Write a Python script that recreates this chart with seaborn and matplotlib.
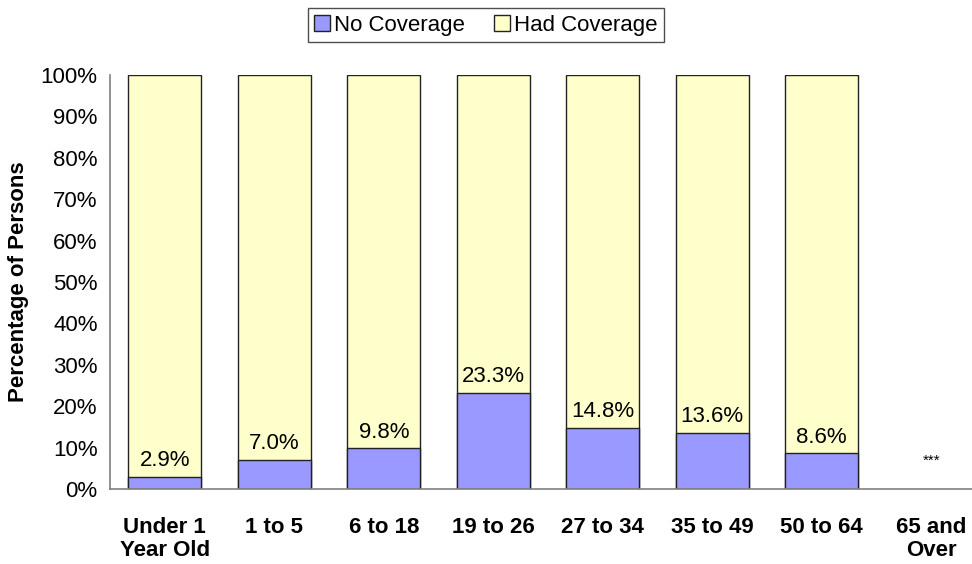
import pandas as pd
import matplotlib.pyplot as plt
import numpy as np
import seaborn as sns
from matplotlib.patches import Patch
from matplotlib.ticker import FixedLocator

categories = ["Under 1\nYear Old", "1 to 5", "6 to 18", "19 to 26",
              "27 to 34", "35 to 49", "50 to 64", "65 and\nOver"]
no_coverage = [2.9, 7.0, 9.8, 23.3, 14.8, 13.6, 8.6, np.nan]
had_coverage = [97.1, 93.0, 90.2, 76.7, 85.2, 86.4, 91.4, np.nan]
labels = ["2.9%", "7.0%", "9.8%", "23.3%", "14.8%", "13.6%", "8.6%", "***"]

df = pd.DataFrame({"group": categories,
                   "no": no_coverage,
                   "had": had_coverage})
df["total"] = df["no"] + df["had"]

blue = "#9999FF"
yellow = "#FFFFCC"

sns.set_style("white")
plt.rcParams["font.family"] = ["Liberation Sans", "DejaVu Sans"]
plt.rcParams["text.color"] = "black"
plt.rcParams["xtick.color"] = "black"
plt.rcParams["ytick.color"] = "black"
plt.rcParams["axes.labelcolor"] = "black"

fig = plt.figure(figsize=(9.72, 5.64), dpi=100)
ax = fig.add_axes([110 / 972, 75 / 564, 876 / 972, 414 / 564])

sns.barplot(data=df, x="group", y="total", color=yellow, width=0.667,
            edgecolor="#222222", linewidth=1, saturation=1, ax=ax)
sns.barplot(data=df, x="group", y="no", color=blue, width=0.667,
            edgecolor="#222222", linewidth=1, saturation=1, ax=ax)

for i, (v, lab) in enumerate(zip(no_coverage, labels)):
    if np.isnan(v):
        ax.annotate(lab, (i, 3.0), xytext=(0, 6), textcoords="offset points",
                    ha="center", va="bottom", fontsize=11)
    else:
        ax.annotate(lab, (i, v), xytext=(0, 4), textcoords="offset points",
                    ha="center", va="bottom", fontsize=16)

ax.set_xlim(-0.5, len(categories) - 0.5)
ax.set_ylim(0, 100)
ax.set_yticks(np.arange(0, 101, 10))
ax.set_yticklabels([f"{t}%" for t in range(0, 101, 10)], fontsize=16)
ax.set_xticks(range(len(categories)))
ax.set_xticklabels(categories, fontsize=16, fontweight="bold", linespacing=1.15)
ax.xaxis.set_minor_locator(FixedLocator(np.arange(-0.5, len(categories), 1.0)))
ax.tick_params(axis="x", which="major", length=0, pad=20)
ax.tick_params(axis="x", which="minor", length=6, width=1, color="#808080", direction="out")
ax.tick_params(axis="y", length=6, width=1, color="#808080", direction="out", pad=3)
for lbl in ax.get_xticklabels():
    lbl.set_verticalalignment("top")

ax.set_xlabel("")
ax.set_ylabel("Percentage of Persons", fontsize=16, fontweight="bold", labelpad=8)

for s in ["top", "right"]:
    ax.spines[s].set_visible(False)
for s in ["left", "bottom"]:
    ax.spines[s].set_color("#808080")
    ax.spines[s].set_linewidth(1.2)

handles = [Patch(facecolor=blue, edgecolor="#222222", label="No Coverage"),
           Patch(facecolor=yellow, edgecolor="#222222", label="Had Coverage")]
leg = fig.legend(handles=handles, loc="upper center", bbox_to_anchor=(0.5, 0.986),
                 ncol=2, fontsize=16, frameon=True, fancybox=False,
                 handlelength=0.7, handleheight=0.7, handletextpad=0.2,
                 columnspacing=1.3, borderpad=0.3, borderaxespad=0)
leg.get_frame().set_edgecolor("#222222")
leg.get_frame().set_linewidth(1)

plt.savefig("out.png", dpi=100)
